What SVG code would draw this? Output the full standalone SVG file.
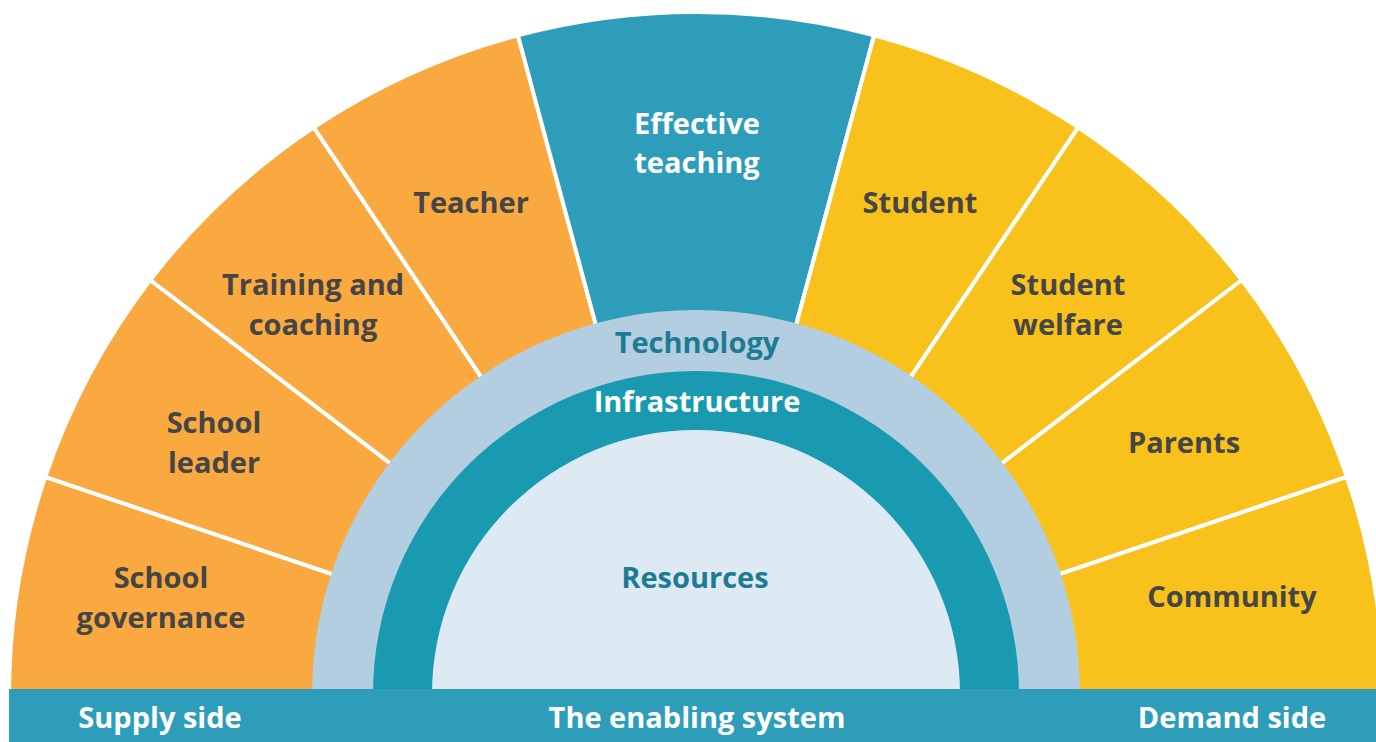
<svg xmlns="http://www.w3.org/2000/svg" width="1376" height="742" viewBox="0 0 1376 742">
  <defs>
    <style>
      text { font-family: "Open Sans", "Liberation Sans", sans-serif; font-weight: 700; font-size: 29px; text-anchor: middle; }
      .dark { fill: #454545; }
      .white { fill: #ffffff; }
      .tealtxt { fill: #1E7B94; }
      .seg { stroke: #ffffff; stroke-width: 4; stroke-linejoin: round; }
      .supply { fill: #F9A93F; }
      .core { fill: #2E9DBA; }
      .demand { fill: #F8C11C; }
    </style>
  </defs>
  <rect x="0" y="0" width="1376" height="742" fill="#ffffff"/>

  <g id="school-governance">
    <path class="seg supply" d="M696 697 L9 697 A688 685 0 0 1 45.2 476.9 Z"/>
    <text class="dark" x="161" y="588">School</text>
    <text class="dark" x="161" y="628">governance</text>
  </g>
  <g id="school-leader">
    <path class="seg supply" d="M696 697 L45.2 476.9 A688 685 0 0 1 150.2 280 Z"/>
    <text class="dark" x="214" y="433">School</text>
    <text class="dark" x="214" y="473">leader</text>
  </g>
  <g id="training-coaching">
    <path class="seg supply" d="M696 697 L150.2 280 A688 685 0 0 1 313.8 127.4 Z"/>
    <text class="dark" x="313" y="295">Training and</text>
    <text class="dark" x="313" y="335">coaching</text>
  </g>
  <g id="teacher">
    <path class="seg supply" d="M696 697 L313.8 127.4 A688 685 0 0 1 517.9 35.3 Z"/>
    <text class="dark" x="471" y="213">Teacher</text>
  </g>
  <g id="effective-teaching">
    <path class="seg core" d="M696 697 L517.9 35.3 A688 685 0 0 1 874.1 35.3 Z"/>
    <text class="white" x="697" y="134">Effective</text>
    <text class="white" x="697" y="173">teaching</text>
  </g>
  <g id="student">
    <path class="seg demand" d="M696 697 L874.1 35.3 A688 685 0 0 1 1078.2 127.4 Z"/>
    <text class="dark" x="920" y="213">Student</text>
  </g>
  <g id="student-welfare">
    <path class="seg demand" d="M696 697 L1078.2 127.4 A688 685 0 0 1 1241.8 280 Z"/>
    <text class="dark" x="1068" y="295">Student</text>
    <text class="dark" x="1068" y="335">welfare</text>
  </g>
  <g id="parents">
    <path class="seg demand" d="M696 697 L1241.8 280 A688 685 0 0 1 1346.8 476.9 Z"/>
    <text class="dark" x="1184" y="453">Parents</text>
  </g>
  <g id="community">
    <path class="seg demand" d="M696 697 L1346.8 476.9 A688 685 0 0 1 1384 697 Z"/>
    <text class="dark" x="1232" y="607">Community</text>
  </g>

  <g id="technology">
    <circle cx="696" cy="694" r="384" fill="#B3CEE0"/>
    <text class="tealtxt" x="697" y="353">Technology</text>
  </g>
  <g id="infrastructure">
    <circle cx="696" cy="694" r="323" fill="#1A9AB0"/>
    <text class="white" x="697" y="412">Infrastructure</text>
  </g>
  <g id="resources">
    <circle cx="696" cy="694" r="264" fill="#DDE9F3"/>
    <text class="tealtxt" x="695" y="588">Resources</text>
  </g>

  <g id="bottom-bar">
    <rect x="9" y="689" width="1367" height="53" fill="#2E9DBA"/>
    <text class="white" x="160" y="728">Supply side</text>
    <text class="white" x="697" y="728">The enabling system</text>
    <text class="white" x="1232" y="728">Demand side</text>
  </g>

  <g id="connectors"></g>
</svg>
